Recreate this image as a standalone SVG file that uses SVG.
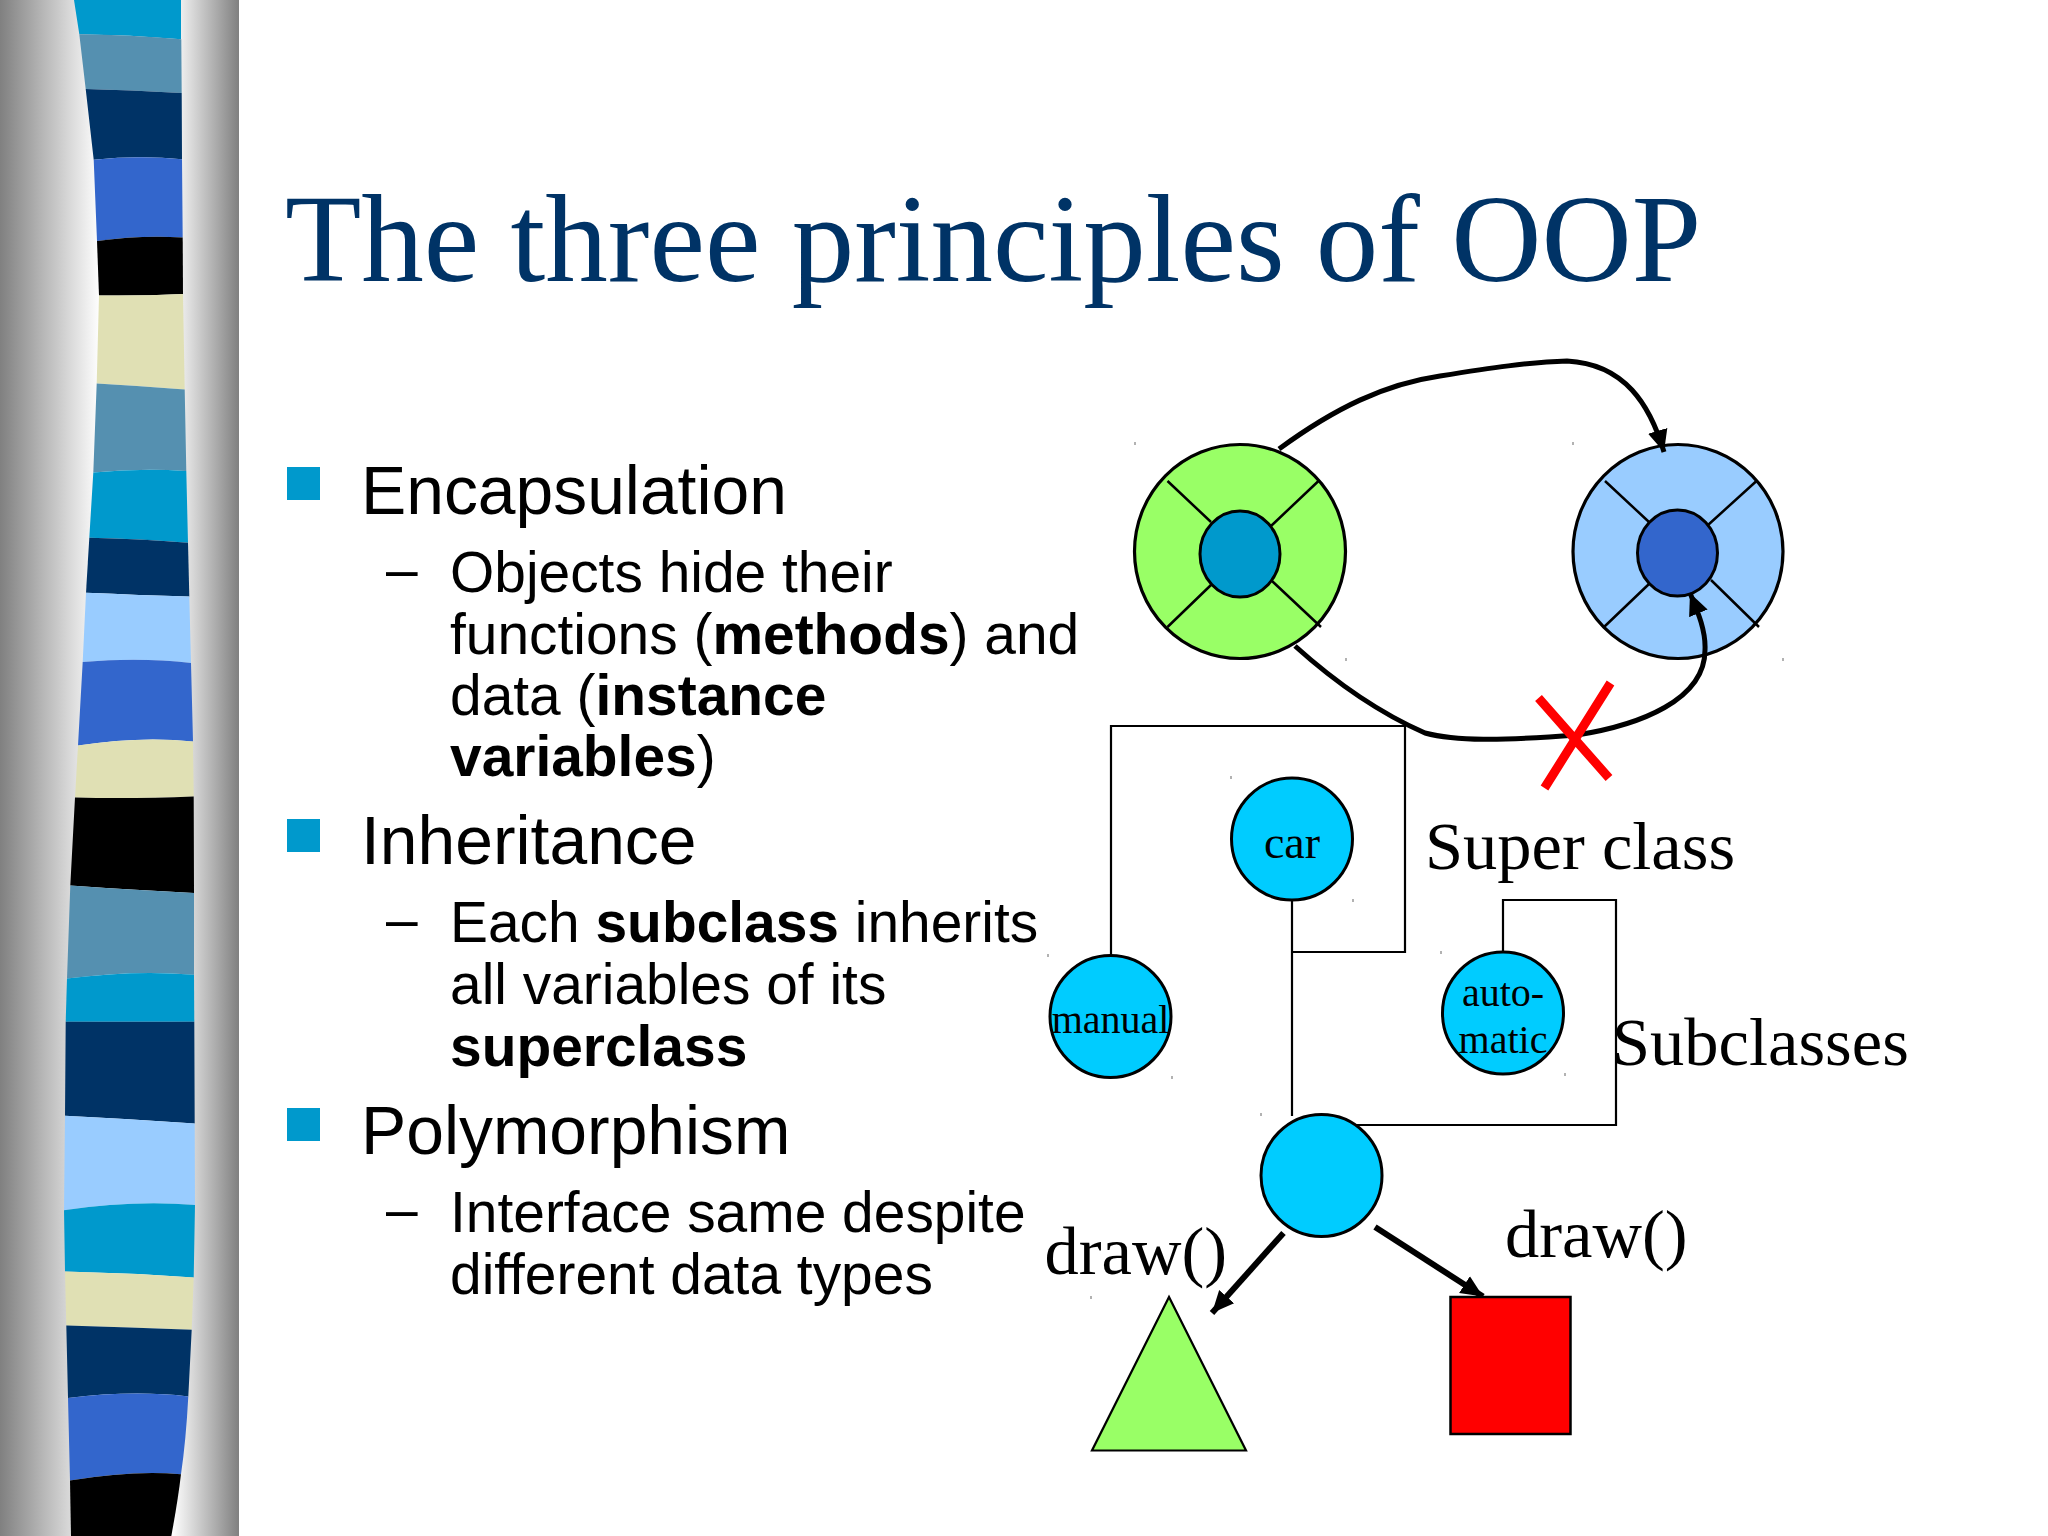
<svg xmlns="http://www.w3.org/2000/svg" width="2048" height="1536" viewBox="0 0 2048 1536">
<style>
.sans{font-family:"Liberation Sans",Arial,sans-serif;fill:#000}
.h{font-size:67.8px}
.s{font-size:56.9px}
.serif{font-family:"Liberation Serif","Times New Roman",serif;fill:#000}
.big{font-size:68.5px}
.lab{font-size:40px}
.title{font-family:"Liberation Serif","Times New Roman",serif;font-size:125px;fill:#003366}
.o{stroke:#000;stroke-width:3.2}
.t{stroke:#000;stroke-width:2.5;fill:none}
.c{fill:#00CCFF;stroke:#000;stroke-width:3}
.box{fill:none;stroke:#000;stroke-width:2.2}
.arr{fill:none;stroke:#000;stroke-width:5}
.arr2{fill:none;stroke:#000;stroke-width:6}
.b{fill:#0099CC}
.tick{stroke:#999;stroke-width:1.5}
</style>
<defs>
<linearGradient id="gl" x1="0" x2="1" y1="0" y2="0"><stop offset="0" stop-color="#808080"/><stop offset="1" stop-color="#ffffff"/></linearGradient>
<linearGradient id="gr" x1="0" x2="1" y1="0" y2="0"><stop offset="0" stop-color="#ffffff"/><stop offset="1" stop-color="#808080"/></linearGradient>
<marker id="ah" markerUnits="userSpaceOnUse" markerWidth="24" markerHeight="22" refX="22" refY="11" orient="auto"><path d="M0 1L22 11L0 21Z" fill="#000"/></marker>
<marker id="ah2" markerUnits="userSpaceOnUse" markerWidth="24" markerHeight="24" refX="22" refY="12" orient="auto"><path d="M0 2L22 12L0 22Z" fill="#000"/></marker>
</defs>
<rect width="2048" height="1536" fill="#fff"/>
<g id="sidebar">
<rect x="0" y="0" width="100" height="1536" fill="url(#gl)"/>
<rect x="172" y="0" width="67" height="1536" fill="url(#gr)"/>
<path fill="#0099CC" d="M74 0H181V39.2Q130 35 79.3 34.3Z"/>
<path fill="#5590B0" d="M79.3 34.3Q130 35 181.3 39.2L181.7 93Q130 90 85.7 89Z"/>
<path fill="#003366" d="M85.7 89Q130 90 181.7 93L182 159.2Q140 155 93.7 159.7Z"/>
<path fill="#3366CC" d="M93.7 159.7Q140 155 182 159.2L182.7 237.5Q140 235 97 241Z"/>
<path fill="#000" d="M97 241Q140 235 182.7 237.5L183 294Q140 296 99 295.4Z"/>
<path fill="#E0E0B4" d="M99 295.4Q140 296 183 294L184.7 389.4Q140 386 96.7 383.5Z"/>
<path fill="#5590B0" d="M96.7 383.5Q140 386 184.7 389.4L186.3 471Q140 468 93.3 472.6Z"/>
<path fill="#0099CC" d="M93.3 472.6Q140 468 186.3 471L188 542.7Q140 539 89.3 537.8Z"/>
<path fill="#003366" d="M89.3 537.8Q140 539 188 542.7L189.3 596.6Q140 595 86 592.7Z"/>
<path fill="#99CCFF" d="M86 592.7Q140 595 189.3 596.6L191 663Q140 657 82.7 662Z"/>
<path fill="#3366CC" d="M82.7 662Q140 657 191 663L193 741.5Q140 736 78 745.5Z"/>
<path fill="#E0E0B4" d="M78 745.5Q140 736 193 741.5L193.7 796.4Q130 799 75 797.4Z"/>
<path fill="#000" d="M75 797.4Q130 799 193.7 796.4L194 893Q130 890 70.3 885.6Z"/>
<path fill="#5590B0" d="M70.3 885.6Q130 890 194 893L194 974.7Q133 970 67 978.6Z"/>
<path fill="#0099CC" d="M67 978.6Q133 970 194 974.7L194.3 1021.7H65.7Z"/>
<path fill="#003366" d="M65.7 1021.7H194.3L194.7 1123.6Q130 1119 65 1115.8Z"/>
<path fill="#99CCFF" d="M65 1115.8Q130 1119 194.7 1123.6L195 1205Q133 1200 64 1210.3Z"/>
<path fill="#0099CC" d="M64 1210.3Q133 1200 195 1205L193.7 1277.4Q130 1273 65 1271.5Z"/>
<path fill="#E0E0B4" d="M65 1271.5Q130 1273 193.7 1277.4L191.7 1329.8Q130 1327 66.3 1325.4Z"/>
<path fill="#003366" d="M66.3 1325.4Q130 1327 191.7 1329.8L188.3 1396.4Q133 1390 68 1398Z"/>
<path fill="#3366CC" d="M68 1398Q133 1390 188.3 1396.4Q186 1440 181 1474.3Q133 1470 70 1480.6Z"/>
<path fill="#000" d="M70 1480.6Q133 1470 181 1474.3Q178 1500 171.3 1536H71Z"/>
</g>
<text id="title" class="title" x="285" y="280.5">The three principles of OOP</text>
<g id="bullets">
<rect class="b" x="287" y="467" width="33" height="33"/>
<rect class="b" x="287" y="819" width="33" height="33"/>
<rect class="b" x="287" y="1108" width="33" height="33"/>
</g>
<g id="body">
<text class="sans h" x="361" y="513.5">Encapsulation</text>
<text class="sans s" x="386" y="589">–</text>
<text class="sans s" x="450" y="591.5">Objects hide their</text>
<text class="sans s" x="450" y="653.5">functions (<tspan font-weight="700">methods</tspan>) and</text>
<text class="sans s" x="450" y="714.5">data (<tspan font-weight="700">instance</tspan></text>
<text class="sans s" x="450" y="776"><tspan font-weight="700">variables</tspan>)</text>
<text class="sans h" x="361" y="864">Inheritance</text>
<text class="sans s" x="386" y="939">–</text>
<text class="sans s" x="450" y="941.5">Each <tspan font-weight="700">subclass</tspan> inherits</text>
<text class="sans s" x="450" y="1003.5">all variables of its</text>
<text class="sans s" x="450" y="1065.5"><tspan font-weight="700">superclass</tspan></text>
<text class="sans h" x="361" y="1154">Polymorphism</text>
<text class="sans s" x="386" y="1229">–</text>
<text class="sans s" x="450" y="1231.5">Interface same despite</text>
<text class="sans s" x="450" y="1293.5">different data types</text>
</g>
<g id="object-green">
<ellipse cx="1240" cy="551.5" rx="105.5" ry="107" fill="#99FF66" class="o"/>
<path class="t" d="M1167.5 481L1211 522M1318.5 481L1271 526M1167.5 627L1211 585M1272 581L1321 627"/>
<ellipse cx="1240" cy="554" rx="40" ry="43" fill="#0099CC" class="o" style="stroke-width:3"/>
</g>
<g id="object-blue">
<ellipse cx="1678" cy="551.5" rx="105" ry="107" fill="#99CCFF" class="o"/>
<path class="t" d="M1605 481L1649 522M1756.5 481L1708 525M1604 627L1649 584M1711 580L1759 627"/>
<ellipse cx="1677.5" cy="553" rx="40" ry="43" fill="#3366CC" class="o" style="stroke-width:3"/>
</g>
<g id="connectors">
<path class="arr" marker-end="url(#ah)" d="M1279 449C1335 408 1385 384 1440 376C1490 368 1530 362 1567 361C1625 364 1650 405 1664 452"/>
<path class="arr" marker-end="url(#ah)" d="M1295 646C1355 700 1400 722 1425 733C1455 741 1500 741 1577 735C1640 725 1705 700 1705 650C1706 630 1697 610 1690 593"/>
<path class="box" d="M1111 955V726H1405V952H1292"/>
<path class="box" d="M1292 900V1116"/>
<path class="box" d="M1503 952V900H1616V1125H1356"/>
<path class="arr2" marker-end="url(#ah2)" d="M1283.5 1233L1212 1313"/>
<path class="arr2" marker-end="url(#ah2)" d="M1375 1227L1483 1296.5"/>
</g>
<g id="red-cross" stroke="#f00" stroke-width="9" fill="none"><path d="M1538.5 698L1609 778M1610.5 683L1544.5 788"/></g>
<g id="node-car"><ellipse class="c" cx="1292" cy="839" rx="60.5" ry="61"/><text class="serif" style="font-size:46px" x="1292" y="858" text-anchor="middle">car</text></g>
<g id="node-manual"><ellipse class="c" cx="1110.5" cy="1016.5" rx="60.5" ry="61"/><text class="serif lab" x="1110.5" y="1033" text-anchor="middle">manual</text></g>
<g id="node-automatic"><ellipse class="c" cx="1503" cy="1013" rx="60.5" ry="61"/><text class="serif lab" x="1503" y="1006" text-anchor="middle">auto-</text><text class="serif lab" x="1503" y="1053" text-anchor="middle">matic</text></g>
<g id="node-instance"><ellipse class="c" cx="1321.5" cy="1175.5" rx="60.5" ry="61"/></g>
<g id="node-triangle"><path d="M1169 1297L1092 1450.5H1246Z" fill="#99FF66" stroke="#000" stroke-width="2.2"/></g>
<g id="node-square"><rect x="1450.5" y="1297" width="120" height="137" fill="#f00" stroke="#000" stroke-width="2.5"/></g>
<g id="labels">
<text class="serif big" x="1425" y="868.5">Super class</text>
<text class="serif big" x="1612" y="1065">Subclasses</text>
<text class="serif big" x="1044.5" y="1274">draw()</text>
<text class="serif big" x="1505" y="1257">draw()</text>
</g>
<g id="ticks" class="tick">
<path d="M1135 442v3M1346 658v3M1573 442v3M1783 658v3M1231 776v3M1353 899v3M1048 954v3M1172 1076v3M1441 951v3M1565 1073v3M1261 1113v3M1091 1296v3"/>
</g>
</svg>
